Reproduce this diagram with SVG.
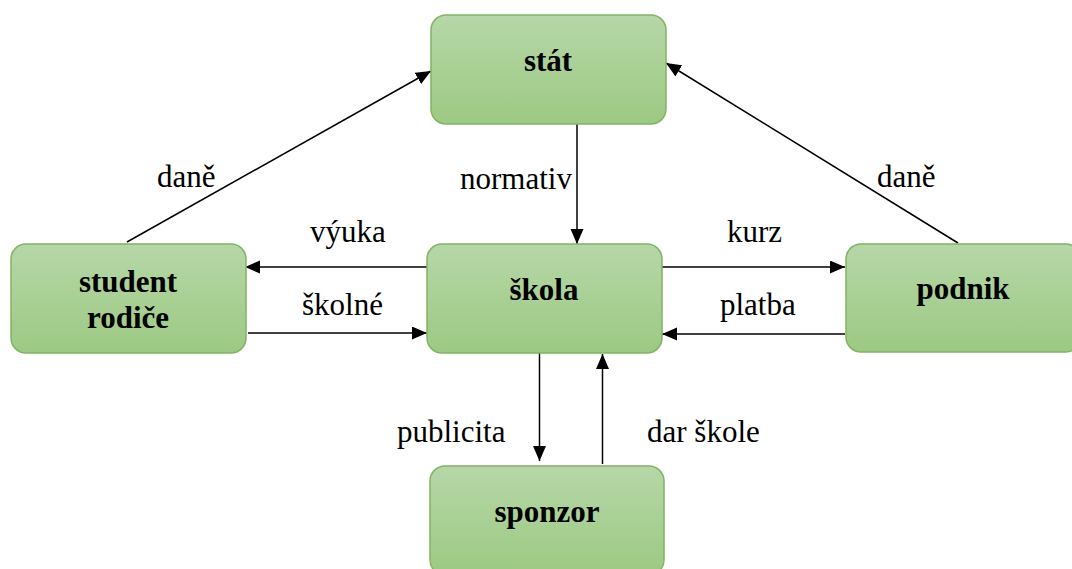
<svg xmlns="http://www.w3.org/2000/svg" width="1072" height="569" viewBox="0 0 1072 569">
<defs>
<linearGradient id="g" x1="0" y1="0" x2="0" y2="1">
<stop offset="0" stop-color="#b6d7a8"/>
<stop offset="1" stop-color="#9cc982"/>
</linearGradient>
<marker id="arr" markerUnits="userSpaceOnUse" markerWidth="16" markerHeight="14" refX="15" refY="6.5" orient="auto">
<path d="M0,0 L15,6.5 L0,13 z" fill="#000"/>
</marker>
<style>
.box{fill:url(#g);stroke:#82b366;stroke-width:1.5}
.nl{font-family:'Liberation Serif','Times New Roman','DejaVu Serif',serif;font-weight:bold;font-size:31px;fill:#000;text-anchor:middle}
.el{font-family:'Liberation Serif','Times New Roman','DejaVu Serif',serif;font-size:31px;fill:#000}
.c{stroke:#000;stroke-width:1.5;fill:none;marker-end:url(#arr)}
</style>
</defs>
<rect width="1072" height="569" fill="#fff"/>
<g id="connectors">
<line class="c" x1="127" y1="242" x2="431" y2="71"/>
<line class="c" x1="958" y1="243" x2="666" y2="63"/>
<line class="c" x1="577" y1="124" x2="577" y2="244"/>
<line class="c" x1="427" y1="267" x2="245" y2="267"/>
<line class="c" x1="248" y1="333" x2="427" y2="333"/>
<line class="c" x1="662" y1="267" x2="845" y2="267"/>
<line class="c" x1="845" y1="334" x2="662" y2="334"/>
<line class="c" x1="539.5" y1="353" x2="539.5" y2="461"/>
<line class="c" x1="602.5" y1="464" x2="602.5" y2="354"/>
<text class="el" x="157" y="187" font-family="Liberation Serif, serif">daně</text>
<text class="el" x="460" y="189">normativ</text>
<text class="el" x="877" y="187">daně</text>
<text class="el" x="310" y="242">výuka</text>
<text class="el" x="727" y="242">kurz</text>
<text class="el" x="302" y="315">školné</text>
<text class="el" x="720" y="315">platba</text>
<text class="el" x="397" y="442">publicita</text>
<text class="el" x="647" y="442">dar škole</text>
</g>
<g id="stat">
<rect class="box" x="431" y="15" width="235" height="109" rx="15"/>
<text class="nl" x="548" y="71">stát</text>
</g>
<g id="student">
<rect class="box" x="11" y="244" width="235" height="109" rx="15"/>
<text class="nl" x="128" y="292">student</text>
<text class="nl" x="128" y="328">rodiče</text>
</g>
<g id="skola">
<rect class="box" x="427" y="244" width="235" height="109" rx="15"/>
<text class="nl" x="544" y="300">škola</text>
</g>
<g id="podnik">
<rect class="box" x="846" y="244" width="235" height="108" rx="15"/>
<text class="nl" x="963" y="299">podnik</text>
</g>
<g id="sponzor">
<rect class="box" x="430" y="466" width="234" height="109" rx="15"/>
<text class="nl" x="547" y="522">sponzor</text>
</g>
</svg>
